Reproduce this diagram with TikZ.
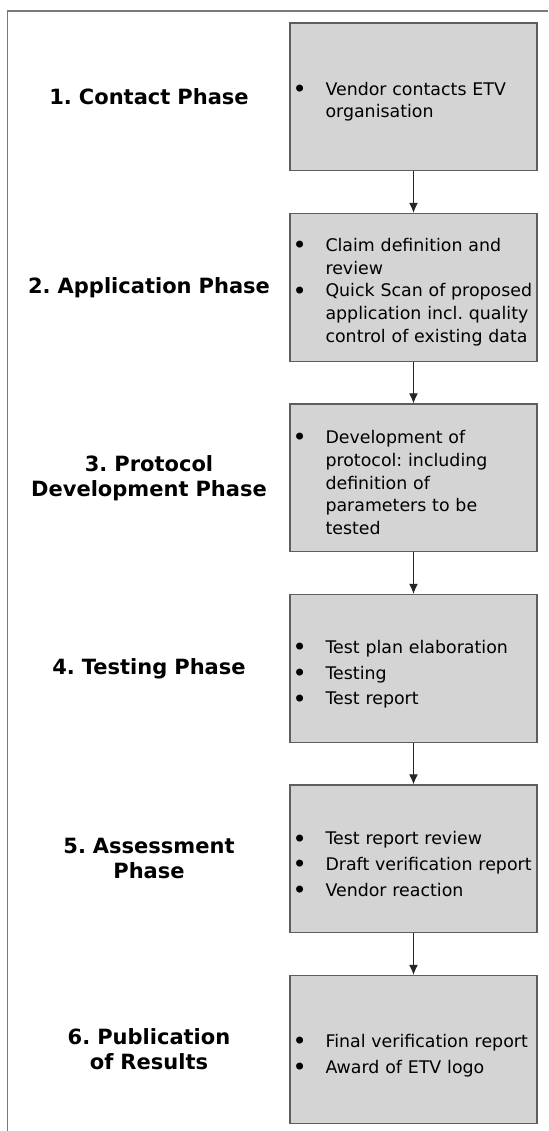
\documentclass[tikz,border=0pt]{standalone}
\usepackage{fontspec}
\setmainfont{DejaVu Sans}
\usetikzlibrary{arrows.meta, positioning}
\frenchspacing
\definecolor{boxfill}{HTML}{D4D4D4}
\definecolor{boxline}{HTML}{5E5E5E}
\definecolor{frameline}{HTML}{7A7A7A}
% one bullet item with hanging indent (break lines with \newline)
\newcommand{\itm}[1]{\par\hangindent=17.75pt\hangafter=1\noindent
  \makebox[17.75pt][l]{\hspace{1.3pt}\raisebox{-1.1pt}{\fontsize{12}{11}\selectfont\textbullet}}#1\par}
\tikzset{
  stagebox/.style={
    draw=boxline, fill=boxfill, line width=0.6pt,
    minimum width=123.5pt, minimum height=73.85pt,
    text width=123.5pt, inner xsep=0pt, inner ysep=0pt,
    font=\fontsize{8.7}{11.4}\selectfont\raggedright
  },
  loose/.style={execute at begin node={\setlength{\parskip}{1.4pt}}},
  phase/.style={
    text width=130pt, inner sep=0pt, align=center,
    font=\fontsize{10.5}{12.5}\selectfont\bfseries
  },
  darrow/.style={-{Latex[length=5pt, width=4.4pt]}, line width=0.5pt, color=black!85}
}

\begin{document}
\begin{tikzpicture}[x=0.5pt, y=-0.5pt, node distance=20.8pt]
    \useasboundingbox (0,0) rectangle (548,1131);
    % Page frame
    \draw[frameline, line width=0.6pt] (548,11) -- (7.7,11) -- (7.7,1131);

    % Stages
    \node[stagebox] (b1) at (413.5,96.85) {\itm{Vendor contacts ETV\newline organisation}};
    \node[stagebox, below=of b1] (b2) {\itm{Claim definition and\newline review}
      \itm{Quick Scan of proposed\newline application incl. quality\newline control of existing data}};
    \node[stagebox, below=of b2] (b3) {\itm{Development of\newline protocol: including\newline definition of\newline parameters to be\newline tested}};
    \node[stagebox, loose, below=of b3] (b4) {\itm{Test plan elaboration}
      \itm{Testing}
      \itm{Test report}};
    \node[stagebox, loose, below=of b4] (b5) {\itm{Test report review}
      \itm{Draft verification report}
      \itm{Vendor reaction}};
    \node[stagebox, loose, below=of b5] (b6) {\itm{Final verification report}
      \itm{Award of ETV logo}};

    % Phase titles
    \node[phase, left=5pt of b1] (p1) {1. Contact Phase};
    \node[phase, left=5pt of b2] (p2) {2. Application Phase};
    \node[phase, left=5pt of b3] (p3) {3. Protocol\\Development Phase};
    \node[phase, left=5pt of b4] (p4) {4. Testing Phase};
    \node[phase, left=5pt of b5] (p5) {5. Assessment\\Phase};
    \node[phase, left=5pt of b6] (p6) {6. Publication\\of Results};

    % Flow
    \draw[darrow] (b1) -- (b2);
    \draw[darrow] (b2) -- (b3);
    \draw[darrow] (b3) -- (b4);
    \draw[darrow] (b4) -- (b5);
    \draw[darrow] (b5) -- (b6);
\end{tikzpicture}
\end{document}
